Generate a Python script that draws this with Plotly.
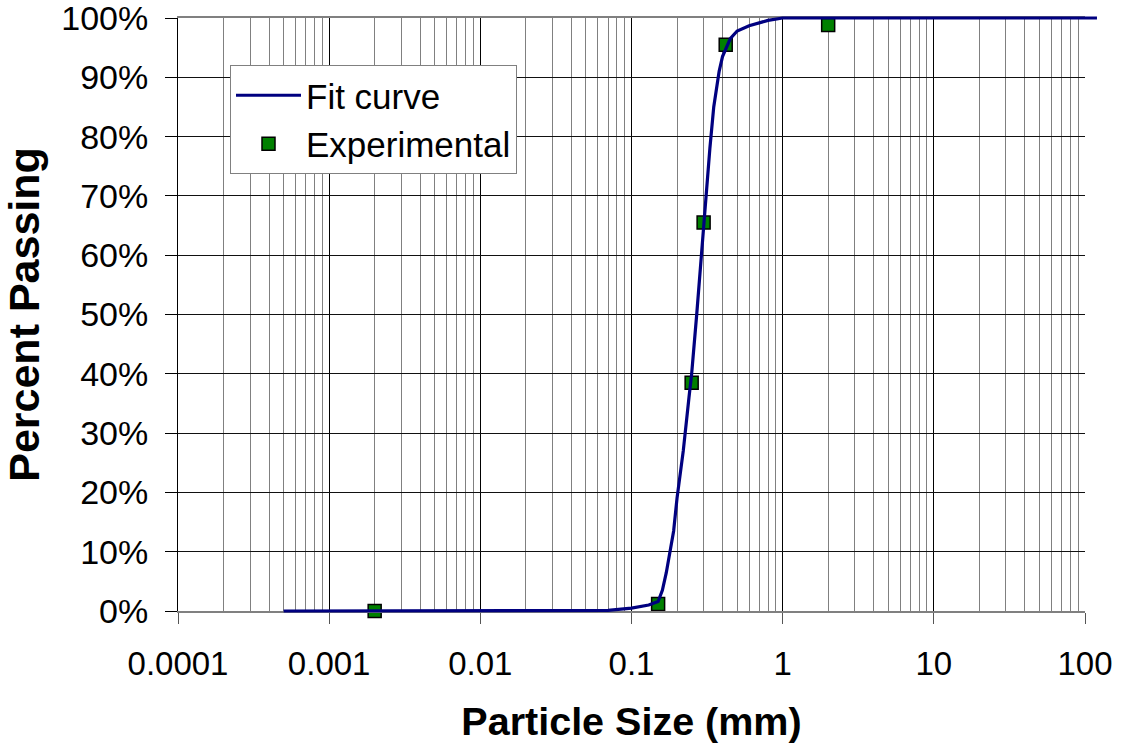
import plotly.graph_objects as go

# Fit curve
fit_x = [0.0005, 0.001, 0.01, 0.05, 0.07, 0.1, 0.13, 0.15, 0.16, 0.17, 0.18, 0.19, 0.2,
         0.22, 0.24, 0.25, 0.27, 0.29, 0.3, 0.33, 0.35, 0.38, 0.4, 0.45, 0.5, 0.6,
         0.8, 1.0, 120]
fit_y = [0.0, 0.0, 0.0, 0.0, 0.001, 0.005, 0.010, 0.016, 0.035, 0.065, 0.10, 0.135, 0.19,
         0.27, 0.36, 0.40, 0.50, 0.60, 0.66, 0.78, 0.85, 0.91, 0.935, 0.965, 0.978, 0.987,
         0.996, 1.0, 1.0]

# Experimental points
exp_x = [0.002, 0.15, 0.25, 0.3, 0.42, 2.0]
exp_y = [0.0, 0.012, 0.385, 0.655, 0.955, 0.988]

x_tickvals = [0.0001, 0.001, 0.01, 0.1, 1, 10, 100]
x_ticktext = ["0.0001", "0.001", "0.01", "0.1", "1", "10", "100"]
y_tickvals = [0.0, 0.1, 0.2, 0.3, 0.4, 0.5, 0.6, 0.7, 0.8, 0.9, 1.0]
y_ticktext = ["0%", "10%", "20%", "30%", "40%", "50%", "60%", "70%", "80%", "90%", "100%"]

FONT = "Liberation Sans, Arial, sans-serif"

# pixel geometry
W, H = 1123, 752
PL, PR = 178, 1085   # x of 0.0001 and 100
PT, PB = 18, 611     # y of 100% and 0%
CURVE_END = 1100
ML = PL
MR = W - CURVE_END
MT = PT - 8
MB = H - (PB + 8)
plot_w = W - ML - MR
plot_h = H - MT - MB
dec = (PR - PL) / 6.0
x2_max = 2 + (CURVE_END - PR) / dec
ypx = (PB - PT)
y_lo = -((H - MB) - PB) / ypx
y_hi = 1 + (PT - MT) / ypx

fig = go.Figure()
fig.add_trace(go.Scatter(x=fit_x, y=fit_y, mode="lines", name="Fit curve",
                         line=dict(color="#000080", width=3.2),
                         xaxis="x2", yaxis="y2"))
fig.add_trace(go.Scatter(x=exp_x, y=exp_y, mode="markers", name="Experimental",
                         marker=dict(symbol="square", size=13, color="#008000",
                                     line=dict(color="#000000", width=1.5)),
                         xaxis="x", yaxis="y", cliponaxis=False))

fig.update_layout(
    width=W, height=H,
    margin=dict(l=ML, r=MR, t=MT, b=MB, autoexpand=False),
    paper_bgcolor="white", plot_bgcolor="rgba(0,0,0,0)",
    font=dict(family=FONT, color="black", size=33),
    xaxis=dict(type="log", range=[-4, 2], domain=[0, (PR - PL) / plot_w],
               anchor="y",
               tickvals=x_tickvals, ticktext=x_ticktext,
               tickfont=dict(size=33),
               ticklabelstandoff=11,
               showgrid=True, gridcolor="#000000", gridwidth=1,
               minor=dict(dtick="D1", showgrid=True, gridcolor="#808080", gridwidth=1,
                          ticks=""),
               ticks="outside", ticklen=11, tickcolor="#555555",
               showline=True, linecolor="#808080", linewidth=2, mirror=True,
               zeroline=False, automargin=False,
               title=dict(text="<b>Particle Size (mm)</b>", font=dict(size=39.5),
                          standoff=27)),
    yaxis=dict(range=[0, 1], domain=[((H - MB) - PB) / plot_h, ((H - MB) - PT) / plot_h],
               anchor="x",
               tickvals=y_tickvals, ticktext=y_ticktext,
               tickfont=dict(size=34),
               ticklabeloverflow="allow",
               showgrid=True, gridcolor="#111111", gridwidth=1,
               ticks="outside", ticklen=12, tickcolor="#000000",
               ticklabelstandoff=10,
               showline=True, linecolor="#000000", linewidth=1,
               zeroline=False, automargin=False,
               title=dict(text="<b>Percent Passing</b>", font=dict(size=43),
                          standoff=41)),
    xaxis2=dict(type="log", range=[-4, x2_max], domain=[0, 1], anchor="y2",
                visible=False),
    yaxis2=dict(range=[y_lo, y_hi], domain=[0, 1], anchor="x2", visible=False),
    legend=dict(x=(230 - ML) / plot_w, y=((H - MB) - 65) / plot_h,
                xanchor="left", yanchor="top",
                bgcolor="white", bordercolor="#808080", borderwidth=1,
                font=dict(size=35, family=FONT), tracegroupgap=0,
                itemwidth=65),
    showlegend=True,
)

fig.write_html("out.html",
               config={"displayModeBar": False},
               post_script="document.body.style.margin='0';document.body.style.overflow='hidden';")
